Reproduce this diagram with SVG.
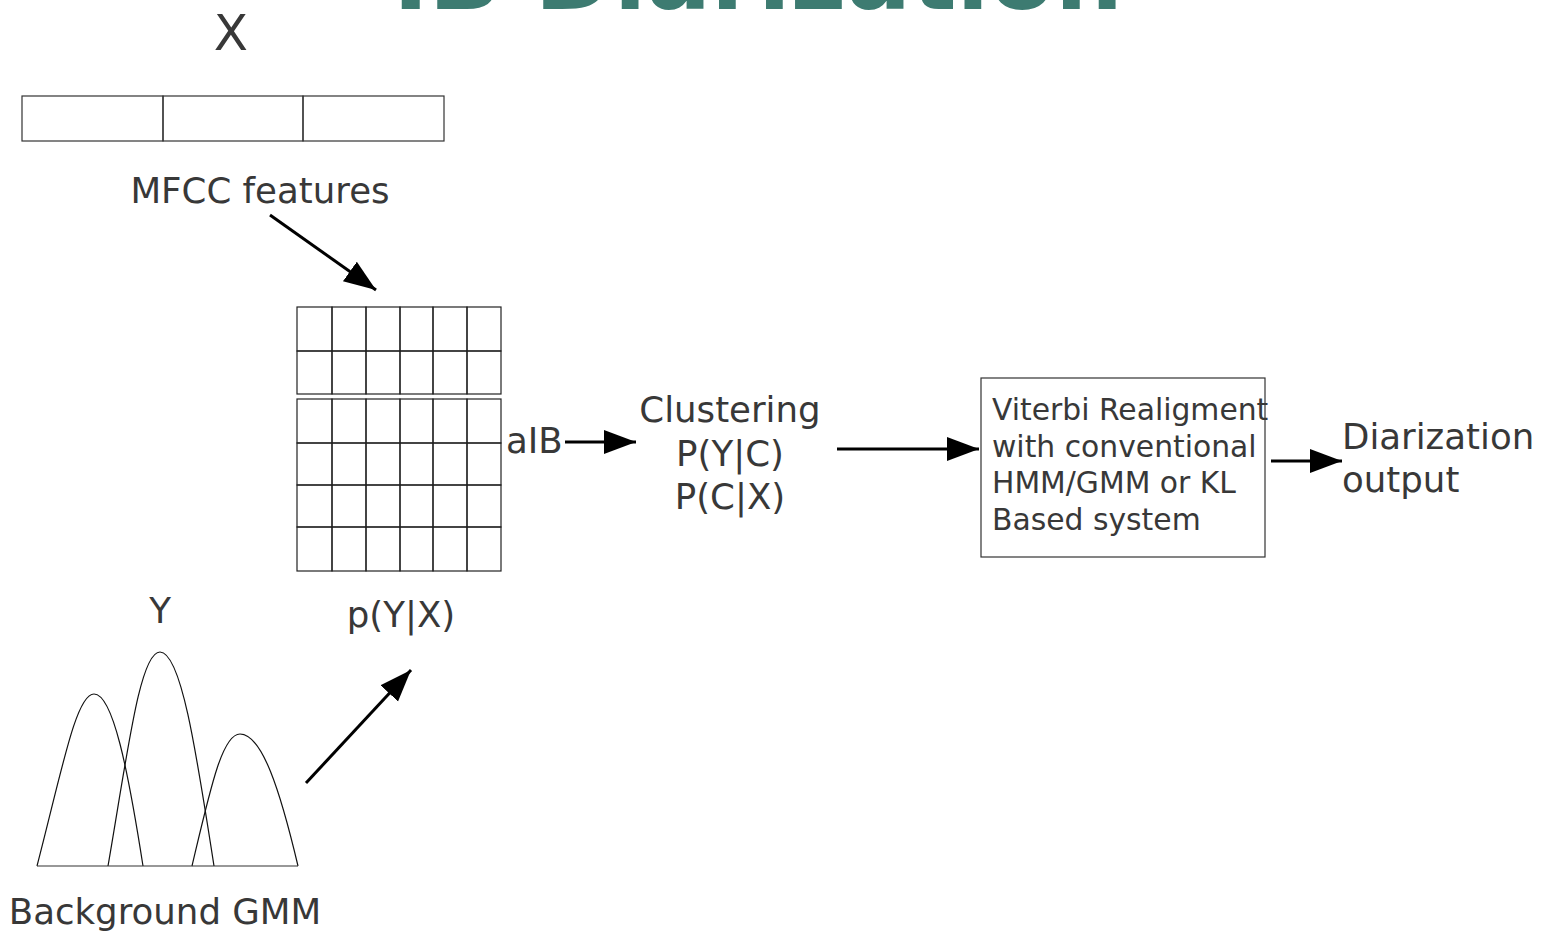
<svg xmlns="http://www.w3.org/2000/svg" width="1545" height="931" viewBox="0 0 1545 931">
<style>
text{font-family:"DejaVu Sans","Liberation Sans",sans-serif;fill:#383838}
.t36{font-size:35.6px}
.t30{font-size:29.8px}
.cell{fill:none;stroke:#222;stroke-width:1.2}
.box{fill:none;stroke:#333;stroke-width:1.2}
.curve{fill:none;stroke:#111;stroke-width:1.2}
.conn{fill:none;stroke:#000;stroke-width:3}
</style>
<defs>
<marker id="ah" markerUnits="userSpaceOnUse" markerWidth="34" markerHeight="26" refX="32" refY="12" orient="auto">
<path d="M0,0 L32,12 L0,24 Z" fill="#000"/>
</marker>
</defs>
<rect width="1545" height="931" fill="#fff"/>
<text x="393" y="9" style="font-size:95.5px;font-weight:bold;fill:#3d7b71">IB Diarization</text>

<g id="mfcc">
<text x="231" y="50" text-anchor="middle" style="font-size:50px">X</text>
<rect class="box" x="22" y="96" width="141" height="45"/>
<rect class="box" x="163" y="96" width="140" height="45"/>
<rect class="box" x="303" y="96" width="141" height="45"/>
<text class="t36" x="260" y="203" text-anchor="middle">MFCC features</text>
</g>

<g id="posterior">
<g class="cell">
<rect x="297" y="307" width="35" height="44"/><rect x="332" y="307" width="34" height="44"/><rect x="366" y="307" width="34" height="44"/><rect x="400" y="307" width="33" height="44"/><rect x="433" y="307" width="34" height="44"/><rect x="467" y="307" width="34" height="44"/>
<rect x="297" y="351" width="35" height="43"/><rect x="332" y="351" width="34" height="43"/><rect x="366" y="351" width="34" height="43"/><rect x="400" y="351" width="33" height="43"/><rect x="433" y="351" width="34" height="43"/><rect x="467" y="351" width="34" height="43"/>
<rect x="297" y="399" width="35" height="44"/><rect x="332" y="399" width="34" height="44"/><rect x="366" y="399" width="34" height="44"/><rect x="400" y="399" width="33" height="44"/><rect x="433" y="399" width="34" height="44"/><rect x="467" y="399" width="34" height="44"/>
<rect x="297" y="443" width="35" height="42"/><rect x="332" y="443" width="34" height="42"/><rect x="366" y="443" width="34" height="42"/><rect x="400" y="443" width="33" height="42"/><rect x="433" y="443" width="34" height="42"/><rect x="467" y="443" width="34" height="42"/>
<rect x="297" y="485" width="35" height="42"/><rect x="332" y="485" width="34" height="42"/><rect x="366" y="485" width="34" height="42"/><rect x="400" y="485" width="33" height="42"/><rect x="433" y="485" width="34" height="42"/><rect x="467" y="485" width="34" height="42"/>
<rect x="297" y="527" width="35" height="44"/><rect x="332" y="527" width="34" height="44"/><rect x="366" y="527" width="34" height="44"/><rect x="400" y="527" width="33" height="44"/><rect x="433" y="527" width="34" height="44"/><rect x="467" y="527" width="34" height="44"/>
</g>
<text class="t36" x="401" y="627" text-anchor="middle">p(Y|X)</text>
<text class="t36" x="506" y="453">aIB</text>
</g>

<g id="gmm">
<text class="t36" x="160" y="623" text-anchor="middle">Y</text>
<path class="curve" d="M37,866 C62,770 76,694 94,694 C113,694 128,770 143,866"/>
<path class="curve" d="M108,866 C128,750 140,652 160,652 C181,652 196,750 214,866"/>
<path class="curve" d="M192,866 C210,790 222,734 240,734 C262,734 280,790 298,866"/>
<line x1="37" y1="866" x2="298" y2="866" stroke="#333" stroke-width="1.2"/>
<text class="t36" x="165" y="924" text-anchor="middle">Background GMM</text>
</g>

<g id="clustering">
<text class="t36" x="730" y="422" text-anchor="middle">Clustering</text>
<text class="t36" x="730" y="466" text-anchor="middle">P(Y|C)</text>
<text class="t36" x="730" y="509" text-anchor="middle">P(C|X)</text>
</g>

<g id="viterbi">
<rect class="box" x="981" y="378" width="284" height="179"/>
<text class="t30" x="992" y="420">Viterbi Realigment</text>
<text class="t30" x="992" y="457">with conventional</text>
<text class="t30" x="992" y="493">HMM/GMM or KL</text>
<text class="t30" x="992" y="530">Based system</text>
</g>

<g id="output">
<text class="t36" x="1342" y="449">Diarization</text>
<text class="t36" x="1342" y="492">output</text>
</g>

<g id="connectors">
<line class="conn" x1="270" y1="215" x2="376" y2="290" marker-end="url(#ah)"/>
<line class="conn" x1="306" y1="783" x2="411" y2="670" marker-end="url(#ah)"/>
<line class="conn" x1="565" y1="442" x2="636" y2="442" marker-end="url(#ah)"/>
<line class="conn" x1="837" y1="449" x2="979" y2="449" marker-end="url(#ah)"/>
<line class="conn" x1="1271" y1="461" x2="1342" y2="461" marker-end="url(#ah)"/>
</g>
</svg>
